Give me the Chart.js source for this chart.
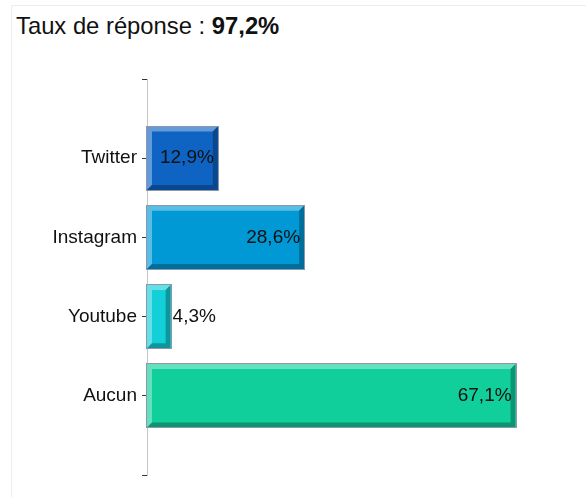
<!DOCTYPE html>
<html>
<head>
<meta charset="utf-8">
<script src="https://cdn.jsdelivr.net/npm/chart.js@4/dist/chart.umd.min.js"></script>
<style>
  body { margin: 0; background: #fff; }
  #wrap { position: relative; width: 586px; height: 497px; overflow: hidden; }
  #frame { position: absolute; left: 11px; top: 5px; right: 0; bottom: 0;
           border-top: 1px solid #e8f0e8; border-left: 1px solid #e8f0e8; }
  #title { position: absolute; left: 16px; top: 12px; font: 23.8px/28px "Liberation Sans", Arial, sans-serif;
           color: #111; white-space: nowrap; }
  canvas { position: absolute; left: 0; top: 0; }
</style>
</head>
<body>
<div id="wrap">
  <div id="frame"></div>
  <div id="title">Taux de réponse : <b>97,2%</b></div>
  <canvas id="myChart" width="586" height="497"></canvas>
</div>
<script>
const categories = ['Twitter', 'Instagram', 'Youtube', 'Aucun'];
const values = [12.9, 28.6, 4.3, 67.1];
const colors = ['#0f63c2', '#0099d6', '#13d0d8', '#11cf9b'];

// empty slot above and below, like the original axis
const labels = [''].concat(categories, ['']);
const data = [null].concat(values, [null]);
const fills = [null].concat(colors, [null]);

function mix(hex, to, t) {
    let c = parseInt(hex.slice(1), 16);
    let r = (c >> 16) & 255, g = (c >> 8) & 255, b = c & 255;
    r = Math.round(r + (to - r) * t);
    g = Math.round(g + (to - g) * t);
    b = Math.round(b + (to - b) * t);
    return 'rgb(' + r + ',' + g + ',' + b + ')';
}

const bevel = {
    id: 'bevel',
    afterDatasetsDraw(chart) {
        const ctx = chart.ctx;
        const meta = chart.getDatasetMeta(0);
        ctx.save();
        meta.data.forEach((bar, i) => {
            if (data[i] == null) return;
            const p = bar.getProps(['x', 'y', 'base', 'height'], true);
            const L = Math.min(p.base, p.x), R = Math.max(p.base, p.x);
            const T = p.y - p.height / 2, B = p.y + p.height / 2;
            const b = Math.min(5, (R - L) / 2);
            const base = fills[i];

            ctx.fillStyle = mix(base, 255, 0.35);
            ctx.beginPath();
            ctx.moveTo(L, T); ctx.lineTo(R, T); ctx.lineTo(R - b, T + b); ctx.lineTo(L + b, T + b);
            ctx.lineTo(L + b, B - b); ctx.lineTo(L, B); ctx.closePath();
            ctx.fill();

            ctx.fillStyle = mix(base, 0, 0.28);
            ctx.beginPath();
            ctx.moveTo(L, B); ctx.lineTo(L + b, B - b); ctx.lineTo(R - b, B - b); ctx.lineTo(R - b, T + b);
            ctx.lineTo(R, T); ctx.lineTo(R, B); ctx.closePath();
            ctx.fill();

            ctx.strokeStyle = '#8a97ad';
            ctx.lineWidth = 1;
            ctx.strokeRect(Math.round(L) - 0.5, Math.round(T) - 0.5, Math.round(R - L) + 1, Math.round(B - T) + 1);

            // value label
            const txt = data[i].toFixed(1).replace('.', ',') + '%';
            ctx.font = '19px "Liberation Sans", Arial, sans-serif';
            ctx.fillStyle = '#111';
            ctx.textBaseline = 'middle';
            const tw = ctx.measureText(txt).width;
            if (tw + 8 < R - L) {
                ctx.textAlign = 'right';
                ctx.fillText(txt, R - 4, p.y);
            } else {
                ctx.textAlign = 'left';
                ctx.fillText(txt, R + 2, p.y);
            }
        });
        ctx.restore();
    }
};

let myChart = new Chart('myChart', {
    type: 'bar',
    data: {
        labels: labels,
        datasets: [{
            data: data,
            backgroundColor: fills,
            borderWidth: 0,
            categoryPercentage: 1,
            barPercentage: 0.8
        }]
    },
    options: {
        indexAxis: 'y',
        responsive: false,
        animation: false,
        layout: { padding: { top: 79, bottom: 22, left: 0, right: 27 } },
        plugins: {
            legend: { display: false },
            tooltip: { enabled: false },
            title: { display: false }
        },
        scales: {
            x: { display: false, min: 0, max: 75 },
            y: {
                type: 'category',
                offset: false,
                afterFit(scale) { scale.width = 147; },
                grid: { offset: false, drawOnChartArea: false, tickLength: 5, tickColor: '#333', lineWidth: 1 },
                border: { color: '#c4c4c4', width: 1 },
                ticks: {
                    autoSkip: false,
                    padding: 5,
                    color: '#111',
                    font: { family: '"Liberation Sans", Arial, sans-serif', size: 19 }
                }
            }
        }
    },
    plugins: [bevel]
});
</script>
</body>
</html>
